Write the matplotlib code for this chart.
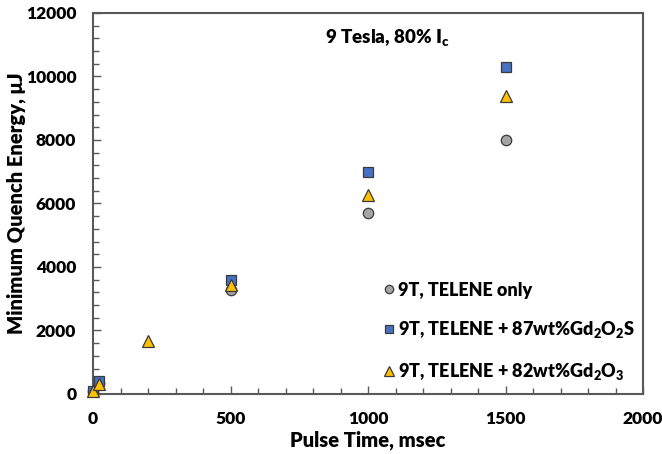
import matplotlib
matplotlib.use("Agg")
import matplotlib.pyplot as plt
from matplotlib.ticker import MultipleLocator

W = 'heavy'
plt.rcParams['font.family'] = ['Lato', 'DejaVu Sans']
plt.rcParams['font.weight'] = W
plt.rcParams['mathtext.fontset'] = 'custom'
plt.rcParams['mathtext.rm'] = 'Lato:heavy'
plt.rcParams['mathtext.it'] = 'Lato:heavy'
plt.rcParams['mathtext.bf'] = 'Lato:heavy'

# Pulse time (msec) and minimum quench energy (uJ)
t_telene = [0, 20, 500, 1000, 1500]
mqe_telene = [80, 350, 3280, 5710, 8000]

t_gd2o2s = [0, 20, 500, 1000, 1500]
mqe_gd2o2s = [100, 420, 3580, 7000, 10310]

t_gd2o3 = [0, 20, 200, 500, 1000, 1500]
mqe_gd2o3 = [80, 320, 1680, 3420, 6280, 9400]

labels = ["9T, TELENE only",
          r"9T, TELENE + 87wt%Gd$_2$O$_2$S",
          r"9T, TELENE + 82wt%Gd$_2$O$_3$"]

fig = plt.figure(figsize=(6.62, 4.54), dpi=100)
ax = fig.add_axes([0.1405, 0.1322, 0.8308, 0.8392])

edge = "#3a3a3a"
ax.plot(t_telene, mqe_telene, 'o', ms=7.5, mfc="#A5A5A5", mec=edge, mew=0.9,
        label=labels[0], zorder=3, clip_on=False)
ax.plot(t_gd2o2s, mqe_gd2o2s, 's', ms=7.5, mfc="#4472C4", mec=edge, mew=0.9,
        label=labels[1], zorder=3, clip_on=False)
ax.plot(t_gd2o3, mqe_gd2o3, '^', ms=8.5, mfc="#FFC000", mec=edge, mew=0.9,
        label=labels[2], zorder=4, clip_on=False)

ax.set_xlim(0, 2000)
ax.set_ylim(0, 12000)
ax.xaxis.set_major_locator(MultipleLocator(500))
ax.xaxis.set_minor_locator(MultipleLocator(100))
ax.yaxis.set_major_locator(MultipleLocator(2000))
ax.yaxis.set_minor_locator(MultipleLocator(400))

spine_c = "#595959"
for s in ax.spines.values():
    s.set_color(spine_c)
    s.set_linewidth(1.5)
ax.tick_params(which='both', direction='in', color=spine_c, labelsize=12.5,
               top=False, right=False)
ax.tick_params(which='major', length=6, width=1.0)
ax.tick_params(which='minor', length=4, width=1.0)
ax.tick_params(axis='x', which='major', pad=12)
ax.tick_params(axis='y', which='major', pad=12)
for lab in ax.get_xticklabels() + ax.get_yticklabels():
    lab.set_fontweight(W)

ax.set_xlabel("Pulse Time, msec", fontsize=14.5, fontweight=W, labelpad=3)
ax.set_ylabel("Minimum Quench Energy, \u03bcJ", fontsize=14.5, fontweight=W,
              labelpad=0)

ax.text(0.535, 0.935, r"9 Tesla, 80% I$_\mathregular{c}$", transform=ax.transAxes,
        ha='center', va='center', fontsize=13.5, fontweight=W)

leg = ax.legend(loc='lower left', bbox_to_anchor=(0.5, 0.0), frameon=False,
                fontsize=13, labelspacing=1.15, handletextpad=0.0,
                handlelength=1.0, borderaxespad=0.25, markerscale=0.8)
for txt in leg.get_texts():
    txt.set_fontweight(W)

fig.savefig("out.png", dpi=100)
